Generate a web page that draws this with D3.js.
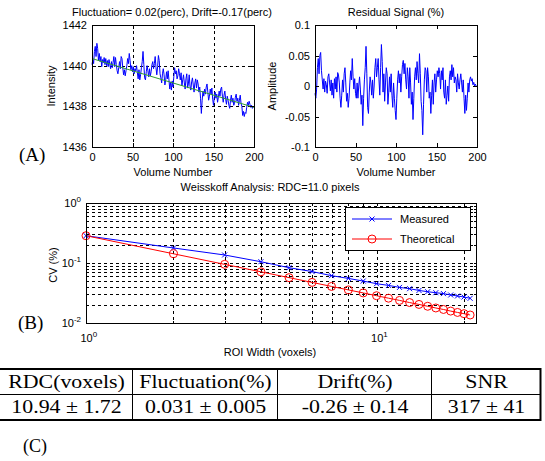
<!DOCTYPE html>
<html>
<head>
<meta charset="utf-8">
<script src="https://cdn.jsdelivr.net/npm/d3@7/dist/d3.min.js"></script>
<style>
  body { margin: 0; background: #fff; }
  svg text { font-family: "Liberation Sans", Arial, sans-serif; font-size: 11px; fill: #000; }
  svg text.serif { font-family: "Liberation Serif", "Times New Roman", serif; }
  .grid { stroke: #000; stroke-width: 1; stroke-dasharray: 3,3; shape-rendering: crispEdges; }
  .box { fill: none; stroke: #000; stroke-width: 1; shape-rendering: crispEdges; }
  .axis path { display: none; }
  .axis line { stroke: #000; shape-rendering: crispEdges; }
</style>
</head>
<body>
<div id="chart"></div>
<script>
// ---- data ----
// (A) left: mean ROI intensity per volume, and the fitted drift line
var intensity = [
  1440.05, 1440.30, 1440.10, 1440.70, 1440.95, 1440.45, 1441.10, 1440.85, 1440.25, 1440.60,
  1440.20, 1440.45, 1439.95, 1440.30, 1440.15, 1440.40, 1440.05, 1440.35, 1440.00, 1440.25,
  1439.95, 1440.30, 1440.05, 1439.85, 1440.20, 1439.90, 1440.15, 1440.45, 1439.95, 1440.40,
  1440.05, 1439.75, 1439.60, 1439.90, 1440.20, 1439.85, 1440.45, 1440.35, 1439.90, 1439.55,
  1439.80, 1439.50, 1439.75, 1440.00, 1440.35, 1440.10, 1440.60, 1440.25, 1439.80, 1440.00,
  1439.70, 1439.95, 1439.60, 1439.85, 1439.75, 1440.00, 1439.65, 1439.35, 1439.80, 1439.30,
  1439.55, 1439.90, 1440.20, 1440.70, 1440.05, 1439.40, 1439.30, 1439.70, 1440.00, 1439.75,
  1439.45, 1439.85, 1439.50, 1439.70, 1440.05, 1440.20, 1439.85, 1440.10, 1440.45, 1439.90,
  1439.55, 1439.95, 1440.50, 1440.25, 1439.60, 1439.40, 1439.15, 1439.60, 1439.85, 1439.55,
  1439.05, 1439.30, 1439.70, 1439.35, 1439.75, 1439.30, 1438.85, 1439.20, 1438.80, 1439.25,
  1438.95, 1439.45, 1439.90, 1439.60, 1439.75, 1439.35, 1439.50, 1439.85, 1439.60, 1439.30,
  1439.65, 1439.00, 1439.30, 1439.55, 1439.15, 1438.85, 1439.35, 1439.60, 1438.90, 1439.10,
  1439.55, 1439.00, 1438.80, 1439.20, 1439.40, 1439.05, 1438.70, 1439.15, 1439.35, 1438.90,
  1439.30, 1439.10, 1438.70, 1438.95, 1438.40, 1437.65, 1438.30, 1438.75, 1438.50, 1438.85,
  1438.60, 1438.95, 1439.10, 1438.70, 1438.30, 1438.50, 1438.85, 1438.60, 1438.90, 1438.35,
  1438.05, 1438.45, 1438.70, 1438.40, 1438.60, 1438.20, 1438.45, 1438.75, 1438.50, 1438.85,
  1438.95, 1438.50, 1438.20, 1438.55, 1438.75, 1438.35, 1438.10, 1438.50, 1438.30, 1438.05,
  1437.90, 1438.30, 1438.55, 1438.20, 1438.40, 1438.05, 1438.15, 1438.45, 1438.60, 1438.25,
  1438.40, 1438.05, 1438.30, 1438.55, 1438.15, 1438.00, 1437.55, 1437.75, 1437.50, 1437.70,
  1437.65, 1437.95, 1438.20, 1438.05, 1438.25, 1438.10, 1437.95, 1438.05, 1437.90, 1438.00
];
var trendVolumes = [0, 200];
var trendValues = [1440.35, 1437.95];

// (A) right: residual signal in percent
var residual = [
  -0.012, -0.020, -0.005, 0.030, 0.045, 0.020, 0.050, 0.055, 0.025, 0.010,
  -0.005, 0.012, -0.010, 0.008, 0.002, -0.012, 0.015, 0.020, 0.005, -0.008,
  0.010, -0.015, 0.005, -0.020, 0.012, -0.005, 0.015, -0.010, 0.022, 0.018,
  0.005, -0.020, -0.035, -0.015, 0.010, -0.010, 0.020, 0.030, 0.005, -0.025,
  -0.012, -0.035, -0.020, 0.005, 0.025, 0.010, 0.045, 0.015, -0.005, 0.012,
  -0.012, -0.020, 0.005, -0.020, 0.000, 0.015, -0.005, -0.030, -0.015, -0.065,
  -0.020, 0.010, 0.030, 0.065, 0.020, -0.035, -0.045, -0.010, 0.015, 0.005,
  -0.015, 0.010, -0.020, 0.000, 0.030, 0.045, 0.015, 0.030, 0.045, 0.010,
  -0.015, 0.030, 0.068, 0.040, -0.010, 0.020, -0.025, 0.005, 0.030, 0.020,
  -0.030, -0.010, 0.015, -0.010, 0.020, -0.015, -0.035, 0.005, -0.020, -0.040,
  -0.055, -0.020, 0.010, 0.025, 0.005, 0.020, -0.010, 0.015, 0.035, 0.042,
  0.020, 0.037, 0.010, -0.005, 0.030, 0.015, -0.020, 0.030, 0.005, -0.030,
  -0.010, -0.055, -0.020, 0.015, 0.030, 0.010, 0.040, 0.020, 0.005, 0.053,
  0.020, -0.025, -0.040, -0.080, -0.030, 0.010, 0.030, 0.025, -0.010, 0.030,
  0.015, -0.020, -0.010, -0.045, -0.015, 0.010, -0.030, 0.005, 0.020, -0.010,
  0.010, 0.025, 0.015, 0.030, 0.020, -0.005, 0.025, 0.010, 0.030, -0.010,
  -0.020, 0.010, -0.030, -0.015, 0.000, -0.025, 0.015, 0.025, 0.010, 0.035,
  0.015, 0.030, 0.005, 0.015, 0.010, -0.010, 0.020, 0.005, -0.005, 0.010,
  0.020, 0.005, -0.010, 0.010, -0.020, -0.045, -0.015, -0.040, -0.020, 0.005,
  -0.010, 0.010, 0.015, 0.008, 0.012, 0.002, 0.006, 0.000, 0.003, 0.000
];

// (B) Weisskoff analysis
var roiWidth = [1, 2, 3, 4, 5, 6, 7, 8, 9, 10, 11, 12, 13, 14, 15, 16, 17, 18, 19, 20, 21];
var measuredCV = [0.285, 0.178, 0.136, 0.105, 0.0835, 0.072, 0.0615, 0.0553, 0.050, 0.0452, 0.0423,
                  0.0392, 0.0373, 0.0349, 0.0332, 0.032, 0.0309, 0.0293, 0.0282, 0.0271, 0.0258];
var theoreticalCV = [0.285, 0.1425, 0.095, 0.0713, 0.057, 0.0475, 0.0407, 0.0356, 0.0317, 0.0285, 0.0259,
                     0.0238, 0.0219, 0.0204, 0.019, 0.0178, 0.0168, 0.0158, 0.015, 0.0143, 0.0136];

// (C) summary table
var tableHeader = ["RDC(voxels)", "Fluctuation(%)", "Drift(%)", "SNR"];
var tableValues = ["10.94 \u00b1 1.72", "0.031 \u00b1 0.005", "-0.26 \u00b1 0.14", "317 \u00b1 41"];

var svg = d3.select("#chart")
    .append("svg")
    .attr("width", 545)
    .attr("height", 461);

// draws ticks on all four sides (matlab style, inward) and the box
function drawFrame(g, x, y, xTicks, yTicks, yFormat) {
    var xr = x.range(), yr = y.range();
    g.append("g").attr("class", "axis")
        .attr("transform", "translate(0," + yr[0] + ")")
        .call(d3.axisBottom(x).tickValues(xTicks).tickSizeInner(-4).tickSizeOuter(0).tickPadding(6));
    g.append("g").attr("class", "axis")
        .attr("transform", "translate(0," + yr[1] + ")")
        .call(d3.axisTop(x).tickValues(xTicks).tickSizeInner(-4).tickSizeOuter(0).tickFormat(""));
    g.append("g").attr("class", "axis")
        .attr("transform", "translate(" + xr[0] + ",0)")
        .call(d3.axisLeft(y).tickValues(yTicks).tickSizeInner(-4).tickSizeOuter(0).tickPadding(5).tickFormat(yFormat));
    g.append("g").attr("class", "axis")
        .attr("transform", "translate(" + xr[1] + ",0)")
        .call(d3.axisRight(y).tickValues(yTicks).tickSizeInner(-4).tickSizeOuter(0).tickFormat(""));
    g.selectAll(".axis").attr("font-size", null).attr("font-family", null);
    g.append("rect").attr("class", "box")
        .attr("x", xr[0] + 0.5).attr("y", yr[1] + 0.5)
        .attr("width", xr[1] - xr[0]).attr("height", yr[0] - yr[1]);
}

// ---------- (A) left: intensity ----------
var xA = d3.scaleLinear().domain([0, 200]).range([92, 254]);
var yA = d3.scaleLinear().domain([1436, 1442]).range([147, 25]);
var gA = svg.append("g");

gA.selectAll(".vgrid").data([50, 100, 150]).enter().append("line").attr("class", "grid")
    .attr("x1", function(d) { return Math.round(xA(d)) + 0.5; })
    .attr("x2", function(d) { return Math.round(xA(d)) + 0.5; })
    .attr("y1", 25).attr("y2", 147);
gA.selectAll(".hgrid").data([1438, 1440]).enter().append("line").attr("class", "grid")
    .attr("x1", 92).attr("x2", 254)
    .attr("y1", function(d) { return Math.round(yA(d)) + 0.5; })
    .attr("y2", function(d) { return Math.round(yA(d)) + 0.5; });

gA.append("path")
    .datum(intensity)
    .attr("fill", "none")
    .attr("stroke", "#0000ff")
    .attr("stroke-width", 1)
    .attr("d", d3.line().x(function(d, i) { return xA(i); }).y(function(d) { return yA(d); }));

gA.append("path")
    .datum(trendValues)
    .attr("fill", "none")
    .attr("stroke", "#2e9e2e")
    .attr("stroke-width", 1)
    .attr("d", d3.line().x(function(d, i) { return xA(trendVolumes[i]); }).y(function(d) { return yA(d); }));

drawFrame(gA, xA, yA, [0, 50, 100, 150, 200], [1436, 1438, 1440, 1442], d3.format("d"));

svg.append("text").attr("x", 172).attr("y", 16).attr("text-anchor", "middle")
    .text("Fluctuation= 0.02(perc), Drift=-0.17(perc)");
svg.append("text").attr("x", 173).attr("y", 176).attr("text-anchor", "middle").text("Volume Number");
svg.append("text").attr("text-anchor", "middle")
    .attr("transform", "translate(55,86) rotate(-90)").text("Intensity");

// ---------- (A) right: residual ----------
var xR = d3.scaleLinear().domain([0, 200]).range([315, 477]);
var yR = d3.scaleLinear().domain([-0.1, 0.1]).range([147, 25]);
var gR = svg.append("g");

gR.append("path")
    .datum(residual)
    .attr("fill", "none")
    .attr("stroke", "#0000ff")
    .attr("stroke-width", 1)
    .attr("d", d3.line().x(function(d, i) { return xR(i); }).y(function(d) { return yR(d); }));

drawFrame(gR, xR, yR, [0, 50, 100, 150, 200], [-0.1, -0.05, 0, 0.05, 0.1], function(d) { return String(d); });

svg.append("text").attr("x", 396).attr("y", 16).attr("text-anchor", "middle").text("Residual Signal (%)");
svg.append("text").attr("x", 396).attr("y", 176).attr("text-anchor", "middle").text("Volume Number");
svg.append("text").attr("text-anchor", "middle")
    .attr("transform", "translate(276,86) rotate(-90)").text("Amplitude");

svg.append("text").attr("class", "serif").attr("x", 19).attr("y", 161)
    .style("font-size", "19px").text("(A)");

// ---------- (B) Weisskoff ----------
var bLeft = 86, bRight = 476, bTop = 203, bBottom = 323;
var xB = d3.scaleLog().domain([1, 22]).range([bLeft, bRight]);
var yB = d3.scaleLog().domain([0.01, 1]).range([bBottom, bTop]);
var gB = svg.append("g");

var xGrid = [2, 3, 4, 5, 6, 7, 8, 9, 10, 20];
var yGrid = [0.02, 0.03, 0.04, 0.05, 0.06, 0.07, 0.08, 0.09, 0.1, 0.2, 0.3, 0.4, 0.5, 0.6, 0.7, 0.8, 0.9];
gB.selectAll(".vgrid").data(xGrid).enter().append("line").attr("class", "grid")
    .attr("x1", function(d) { return Math.round(xB(d)) + 0.5; })
    .attr("x2", function(d) { return Math.round(xB(d)) + 0.5; })
    .attr("y1", bTop).attr("y2", bBottom);
gB.selectAll(".hgrid").data(yGrid).enter().append("line").attr("class", "grid")
    .attr("x1", bLeft).attr("x2", bRight)
    .attr("y1", function(d) { return Math.round(yB(d)) + 0.5; })
    .attr("y2", function(d) { return Math.round(yB(d)) + 0.5; });

gB.append("path")
    .datum(measuredCV)
    .attr("fill", "none").attr("stroke", "#0000ff").attr("stroke-width", 1)
    .attr("d", d3.line().x(function(d, i) { return xB(roiWidth[i]); }).y(function(d) { return yB(d); }));
gB.append("path")
    .datum(theoreticalCV)
    .attr("fill", "none").attr("stroke", "#ff0000").attr("stroke-width", 1)
    .attr("d", d3.line().x(function(d, i) { return xB(roiWidth[i]); }).y(function(d) { return yB(d); }));

gB.selectAll(".mx").data(measuredCV).enter().append("path")
    .attr("fill", "none").attr("stroke", "#0000ff").attr("stroke-width", 1)
    .attr("d", function(d, i) {
        var cx = xB(roiWidth[i]), cy = yB(d);
        return "M" + (cx - 2.5) + "," + (cy - 2.5) + "L" + (cx + 2.5) + "," + (cy + 2.5) +
               "M" + (cx - 2.5) + "," + (cy + 2.5) + "L" + (cx + 2.5) + "," + (cy - 2.5);
    });
gB.selectAll(".mo").data(theoreticalCV).enter().append("circle")
    .attr("cx", function(d, i) { return xB(roiWidth[i]); })
    .attr("cy", function(d) { return yB(d); })
    .attr("r", 4)
    .attr("fill", "none").attr("stroke", "#ff0000").attr("stroke-width", 1);

// axes: majors labelled as powers of ten, minors short
gB.append("g").attr("class", "axis").attr("transform", "translate(0," + bBottom + ")")
    .call(d3.axisBottom(xB).tickValues(xGrid).tickSizeInner(-2).tickSizeOuter(0).tickFormat(""));
gB.append("g").attr("class", "axis").attr("transform", "translate(0," + bTop + ")")
    .call(d3.axisTop(xB).tickValues(xGrid).tickSizeInner(-2).tickSizeOuter(0).tickFormat(""));
gB.append("g").attr("class", "axis").attr("transform", "translate(" + bLeft + ",0)")
    .call(d3.axisLeft(yB).tickValues(yGrid).tickSizeInner(-2).tickSizeOuter(0).tickFormat(""));
gB.append("g").attr("class", "axis").attr("transform", "translate(" + bRight + ",0)")
    .call(d3.axisRight(yB).tickValues(yGrid).tickSizeInner(-2).tickSizeOuter(0).tickFormat(""));

var xMajor = gB.append("g").attr("class", "axis").attr("transform", "translate(0," + bBottom + ")")
    .call(d3.axisBottom(xB).tickValues([1, 10]).tickSizeInner(-4).tickSizeOuter(0).tickPadding(11));
var yMajor = gB.append("g").attr("class", "axis").attr("transform", "translate(" + bLeft + ",0)")
    .call(d3.axisLeft(yB).tickValues([0.01, 0.1, 1]).tickSizeInner(-4).tickSizeOuter(0).tickPadding(5));
gB.selectAll(".axis").attr("font-size", null).attr("font-family", null);

function powerLabel(sel) {
    sel.selectAll(".tick text").each(function(d) {
        var t = d3.select(this).text("");
        t.append("tspan").text("10");
        t.append("tspan").attr("dy", -5).style("font-size", "8px").text(Math.round(Math.log10(d)));
    });
}
powerLabel(xMajor);
powerLabel(yMajor);
xMajor.selectAll(".tick text").attr("text-anchor", "start").attr("dx", -6);

gB.append("rect").attr("class", "box")
    .attr("x", bLeft + 0.5).attr("y", bTop + 0.5).attr("width", bRight - bLeft).attr("height", bBottom - bTop);

// legend
var lg = gB.append("g").attr("transform", "translate(345,207)");
lg.append("rect").attr("x", 0.5).attr("y", 0.5).attr("width", 125).attr("height", 43)
    .attr("fill", "#fff").attr("stroke", "#000");
lg.append("line").attr("x1", 7).attr("x2", 47).attr("y1", 12).attr("y2", 12).attr("stroke", "#0000ff");
lg.append("path").attr("d", "M24.5,9.5L29.5,14.5M24.5,14.5L29.5,9.5").attr("stroke", "#0000ff").attr("fill", "none");
lg.append("text").attr("x", 55).attr("y", 16).text("Measured");
lg.append("line").attr("x1", 7).attr("x2", 47).attr("y1", 32).attr("y2", 32).attr("stroke", "#ff0000");
lg.append("circle").attr("cx", 27).attr("cy", 32).attr("r", 4).attr("fill", "none").attr("stroke", "#ff0000");
lg.append("text").attr("x", 55).attr("y", 36).text("Theoretical");

svg.append("text").attr("x", 270).attr("y", 191).attr("text-anchor", "middle")
    .text("Weisskoff Analysis: RDC=11.0 pixels");
svg.append("text").attr("x", 270).attr("y", 356).attr("text-anchor", "middle").text("ROI Width (voxels)");
svg.append("text").attr("text-anchor", "middle")
    .attr("transform", "translate(57,265) rotate(-90)").text("CV (%)");

svg.append("text").attr("class", "serif").attr("x", 18).attr("y", 329)
    .style("font-size", "19px").text("(B)");

// ---------- (C) table ----------
var colEdges = [0, 133, 278, 432, 541];
var tb = svg.append("g");
tb.append("line").attr("x1", 0).attr("x2", 541).attr("y1", 369).attr("y2", 369).attr("stroke", "#000").attr("stroke-width", 2);
tb.append("line").attr("x1", 0).attr("x2", 541).attr("y1", 394.5).attr("y2", 394.5).attr("stroke", "#000").attr("stroke-width", 1);
tb.append("line").attr("x1", 0).attr("x2", 541).attr("y1", 420).attr("y2", 420).attr("stroke", "#000").attr("stroke-width", 2);
tb.selectAll(".vline").data(colEdges.slice(1)).enter().append("line")
    .attr("x1", function(d) { return d - 0.5; }).attr("x2", function(d) { return d - 0.5; })
    .attr("y1", 368).attr("y2", 421).attr("stroke", "#000")
    .attr("stroke-width", function(d, i) { return i === 3 ? 2 : 1; });

tb.selectAll(".hd").data(tableHeader).enter().append("text").attr("class", "serif")
    .attr("transform", function(d, i) {
        return "translate(" + (colEdges[i] + colEdges[i + 1]) / 2 + ",388) scale(1.15,1)";
    })
    .attr("text-anchor", "middle").style("font-size", "19px").text(function(d) { return d; });
tb.selectAll(".vl").data(tableValues).enter().append("text").attr("class", "serif")
    .attr("transform", function(d, i) {
        return "translate(" + (colEdges[i] + colEdges[i + 1]) / 2 + ",413) scale(1.15,1)";
    })
    .attr("text-anchor", "middle").style("font-size", "19px").text(function(d) { return d; });

svg.append("text").attr("class", "serif").attr("x", 23).attr("y", 452)
    .style("font-size", "18px").text("(C)");
</script>
</body>
</html>
